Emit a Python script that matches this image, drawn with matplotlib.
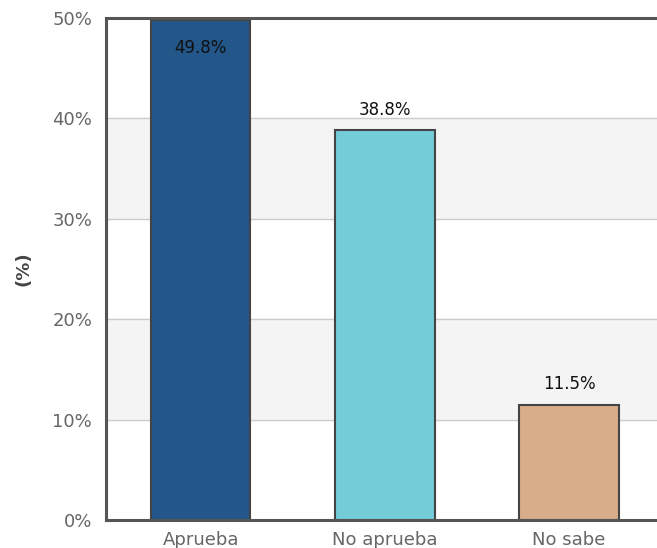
import matplotlib
matplotlib.use("Agg")
import matplotlib.pyplot as plt
from matplotlib.ticker import FuncFormatter

# datos
categorias = ["Aprueba", "No aprueba", "No sabe"]
valores = [49.8, 38.8, 11.5]
colores = ["#235689", "#74ccd8", "#d8ae8a"]
etiquetas = ["49.8%", "38.8%", "11.5%"]

fig = plt.figure(figsize=(6.57, 5.48), dpi=100)
ax = fig.add_axes([0.1613, 0.0511, 0.845, 0.9161])

# bandas alternas
for lo in (10, 30):
    ax.axhspan(lo, lo + 10, color="#f4f4f4", zorder=0)
for y in (10, 20, 30, 40):
    ax.axhline(y, color="#cccccc", lw=1.0, zorder=1)

x = range(len(categorias))
ax.bar(x, valores, width=0.54, color=colores, edgecolor="#444444", linewidth=1.5, zorder=2)

for i, (v, t) in enumerate(zip(valores, etiquetas)):
    if v > 45:
        ax.text(i, v - 1.9, t, ha="center", va="top", fontsize=12, color="#111111", zorder=3)
    else:
        ax.text(i, v + 1.1, t, ha="center", va="bottom", fontsize=12, color="#111111", zorder=3)

ax.set_xlim(-0.514, 2.5)
ax.set_ylim(0, 50)
ax.set_yticks([0, 10, 20, 30, 40, 50])
ax.yaxis.set_major_formatter(FuncFormatter(lambda v, p: f"{int(v)}%"))
ax.set_xticks(list(x))
ax.set_xticklabels(categorias)
ax.tick_params(axis="both", length=0, labelsize=13, colors="#666666")
ax.tick_params(axis="y", pad=10)
ax.tick_params(axis="x", pad=8)
ax.set_ylabel("(%)", fontsize=13, fontweight="bold", color="#444444", labelpad=14)

for s in ("left", "top", "bottom"):
    ax.spines[s].set_color("#555555")
    ax.spines[s].set_linewidth(2.2)
ax.spines["right"].set_visible(False)

fig.savefig("out.png", dpi=100)
